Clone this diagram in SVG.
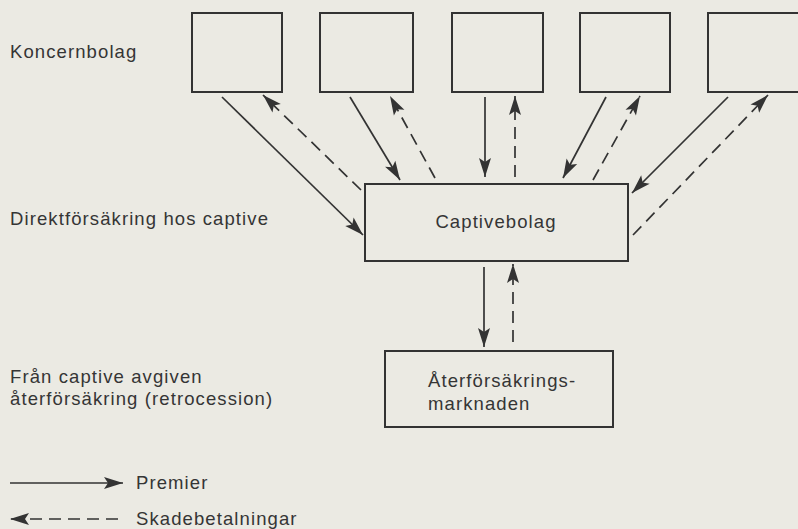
<svg xmlns="http://www.w3.org/2000/svg" width="798" height="529" viewBox="0 0 798 529">
<defs>
<marker id="arr" markerUnits="userSpaceOnUse" markerWidth="20" markerHeight="12" refX="19" refY="6" orient="auto" overflow="visible">
<path d="M0,0 L19,6 L0,12 L4,6 z" fill="#333333"/>
</marker>
</defs>
<style>
.bg{fill:#ebeae3}
.box{fill:none;stroke:#333333;stroke-width:2}
.t{font-family:"Liberation Sans",Arial,sans-serif;font-size:18.5px;letter-spacing:1.1px;fill:#353535}
.sol{stroke:#333333;stroke-width:1.7;fill:none;marker-end:url(#arr)}
.dash{stroke:#333333;stroke-width:1.7;fill:none;stroke-dasharray:12 7;marker-end:url(#arr)}
</style>
<rect class="bg" x="0" y="0" width="798" height="529"/>
<g id="labels">
<text class="t" x="10" y="58">Koncernbolag</text>
<text class="t" x="10" y="225">Direktförsäkring hos captive</text>
<text class="t" x="10" y="383">Från captive avgiven</text>
<text class="t" x="10" y="405">återförsäkring (retrocession)</text>
</g>
<g id="koncern1"><rect class="box" x="192" y="13" width="90" height="79"/></g>
<g id="koncern2"><rect class="box" x="320" y="13" width="93" height="79"/></g>
<g id="koncern3"><rect class="box" x="452" y="13" width="91" height="79"/></g>
<g id="koncern4"><rect class="box" x="580" y="13" width="90" height="79"/></g>
<g id="koncern5"><rect class="box" x="708" y="13" width="100" height="79"/></g>
<g id="captive">
<rect class="box" x="365" y="184" width="263" height="77"/>
<text class="t" x="496" y="228" text-anchor="middle">Captivebolag</text>
</g>
<g id="aterforsakring">
<rect class="box" x="385" y="351" width="228" height="76"/>
<text class="t" x="428" y="387">Återförsäkrings-</text>
<text class="t" x="428" y="410">marknaden</text>
</g>
<g id="connectors">
<line class="sol" x1="222" y1="97" x2="363" y2="235"/>
<line class="dash" x1="361" y1="190" x2="263" y2="95"/>
<line class="sol" x1="350" y1="97" x2="400" y2="180"/>
<line class="dash" x1="435" y1="178" x2="390" y2="96"/>
<line class="sol" x1="485" y1="97" x2="485" y2="177"/>
<line class="dash" x1="515" y1="177" x2="515" y2="96"/>
<line class="sol" x1="606" y1="97" x2="563" y2="178"/>
<line class="dash" x1="593" y1="180" x2="640" y2="96"/>
<line class="sol" x1="728" y1="97" x2="632" y2="193"/>
<line class="dash" x1="633" y1="235" x2="768" y2="95"/>
<line class="sol" x1="484" y1="267" x2="484" y2="347"/>
<line class="dash" x1="513" y1="342" x2="513" y2="264"/>
</g>
<g id="legend">
<line class="sol" x1="10" y1="483" x2="123" y2="483"/>
<text class="t" x="136" y="489">Premier</text>
<line class="dash" x1="118" y1="519" x2="10" y2="519"/>
<text class="t" x="136" y="525">Skadebetalningar</text>
</g>
</svg>
